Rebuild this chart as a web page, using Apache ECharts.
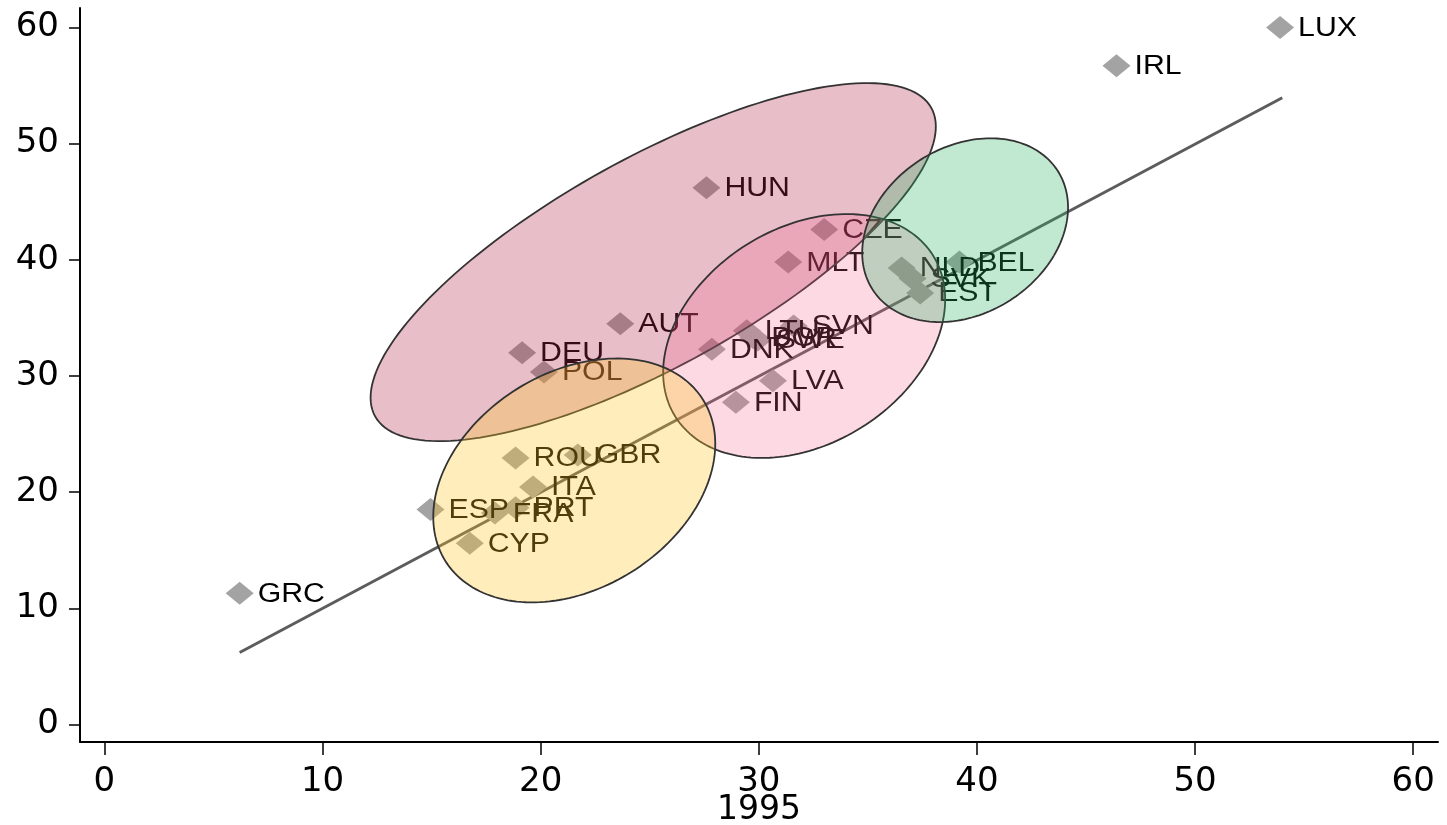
<!DOCTYPE html>
<html>
<head>
<meta charset="utf-8">
<title>1995 scatter with cluster ellipses</title>
<script src="https://cdn.jsdelivr.net/npm/echarts@6/dist/echarts.min.js"></script>
<style>
  html, body { margin: 0; padding: 0; background: #fff; }
  #chart { width: 1447px; height: 825px; }
</style>
</head>
<body>
<div id="chart"></div>
<script>
  // countries and their values (x = 1995)
  const countries = ['LUX', 'IRL', 'GRC', 'HUN', 'CZE', 'MLT', 'AUT', 'DEU', 'POL', 'DNK',
    'LTU', 'BGR', 'SWE', 'SVN', 'LVA', 'FIN', 'NLD', 'SVK', 'EST', 'BEL',
    'ROU', 'GBR', 'ITA', 'ESP', 'FRA', 'PRT', 'CYP']
  const xValues = [53.9, 46.4, 6.2, 27.6, 33.0, 31.35, 23.65, 19.15, 20.15, 27.85,
    29.45, 29.75, 29.95, 31.6, 30.65, 28.95, 36.55, 37.05, 37.4, 39.2,
    18.85, 21.7, 19.65, 14.95, 17.9, 18.85, 16.75]
  const yValues = [60.0, 56.7, 11.3, 46.2, 42.6, 39.8, 34.5, 32.0, 30.35, 32.3,
    33.9, 33.3, 33.1, 34.3, 29.6, 27.75, 39.3, 38.4, 37.15, 39.8,
    22.95, 23.2, 20.45, 18.5, 18.2, 18.65, 15.6]

  // fitted line
  const fitX = [6.2, 54.0]
  const fitY = [6.2, 53.95]

  // ellipses: centre and two conjugate half-axes (data units)
  const ellipseCx = [25.16, 32.08, 39.46, 21.54]
  const ellipseCy = [39.8, 33.44, 42.55, 21.01]
  const ellipseU = [[12.75, 13.27], [5.91, 6.93], [4.25, 5.09], [5.91, 6.93]]
  const ellipseV = [[-2.31, 7.83], [-2.62, 7.88], [-2.05, 6.05], [-2.62, 7.88]]
  const ellipseColors = ['rgba(180,40,75,0.3)', 'rgba(245,100,140,0.245)',
    'rgba(40,180,100,0.29)', 'rgba(255,200,40,0.31)']

  const xTicks = [0, 10, 20, 30, 40, 50, 60]
  const yTicks = [0, 10, 20, 30, 40, 50, 60]

  const points = xValues.map((x, i) => [x, yValues[i], countries[i]])

  const myChart = echarts.init(document.getElementById('chart'))
  myChart.setOption({
    animation: false,
    backgroundColor: '#fff',
    grid: { left: 80, right: 9, top: 8, bottom: 83, containLabel: false, outerBoundsMode: 'none' },
    xAxis: {
      type: 'value',
      min: -1.12,
      max: 61.14,
      name: '1995',
      nameLocation: 'middle',
      nameGap: 68,
      nameMoveOverlap: false,
      nameTextStyle: { fontFamily: 'DejaVu Sans', fontSize: 33, color: '#000', verticalAlign: 'middle' },
      axisLine: { show: true, onZero: false, lineStyle: { color: '#000', width: 2 } },
      axisTick: { show: true, customValues: xTicks, length: 13, lineStyle: { color: '#000', width: 1.5 } },
      axisLabel: { customValues: xTicks, fontFamily: 'DejaVu Sans', fontSize: 34, color: '#000', margin: 23 },
      splitLine: { show: false }
    },
    yAxis: {
      type: 'value',
      min: -1.5,
      max: 61.67,
      axisLine: { show: true, onZero: false, lineStyle: { color: '#000', width: 2 } },
      axisTick: { show: true, customValues: yTicks, length: 11, lineStyle: { color: '#000', width: 1.5 } },
      axisLabel: { customValues: yTicks, fontFamily: 'DejaVu Sans', fontSize: 34, color: '#000', margin: 21 },
      splitLine: { show: false }
    },
    series: [
      {
        type: 'line',
        z: 1,
        data: fitX.map((x, i) => [x, fitY[i]]),
        symbol: 'none',
        lineStyle: { color: '#5c5c5c', width: 3 }
      },
      {
        type: 'scatter',
        z: 2,
        data: points,
        symbol: 'diamond',
        symbolSize: [28, 23],
        itemStyle: { color: '#a3a3a3', opacity: 1 }
      },
      {
        /* labels, stretched a bit sideways like the original */
        type: 'custom',
        z: 3,
        data: points,
        renderItem(params, api) {
          const p = api.coord([api.value(0), api.value(1)])
          return {
            type: 'text',
            x: p[0] + 18,
            y: p[1] + 1,
            scaleX: 1.12,
            style: {
              x: 0,
              y: 0,
              text: countries[params.dataIndex],
              fontFamily: 'Liberation Sans',
              fontSize: 27,
              fill: '#000',
              align: 'left',
              verticalAlign: 'middle'
            }
          }
        }
      },
      {
        /* ellipses drawn over the points */
        type: 'custom',
        z: 4,
        data: ellipseCx.map((x, i) => [x, ellipseCy[i]]),
        renderItem(params, api) {
          const i = params.dataIndex
          const cx = api.value(0)
          const cy = api.value(1)
          const u = ellipseU[i]
          const v = ellipseV[i]
          const pts = []
          for (let k = 0; k < 180; k++) {
            const t = k / 180 * Math.PI * 2
            const c = Math.cos(t)
            const s = Math.sin(t)
            pts.push(api.coord([cx + u[0] * c + v[0] * s, cy + u[1] * c + v[1] * s]))
          }
          return {
            type: 'polygon',
            shape: { points: pts },
            style: { fill: ellipseColors[i], stroke: '#333', lineWidth: 1.8 }
          }
        }
      }
    ]
  })
</script>
</body>
</html>
